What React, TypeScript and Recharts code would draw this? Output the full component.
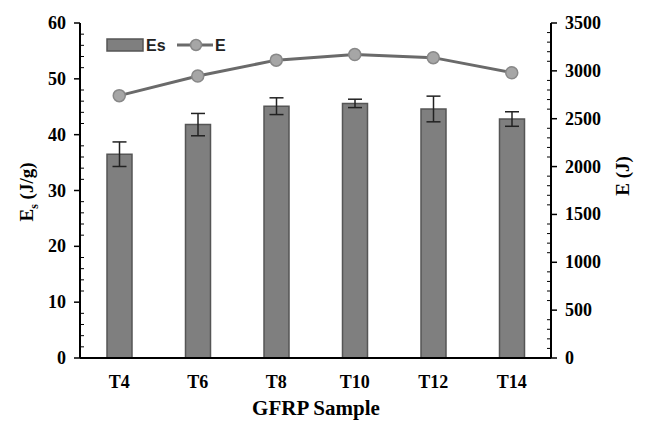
import React from 'react';
import { ComposedChart, Bar, Line, XAxis, YAxis, ErrorBar } from 'recharts';

const samples = ['T4', 'T6', 'T8', 'T10', 'T12', 'T14'];
const esValues = [36.5, 41.8, 45.1, 45.6, 44.6, 42.8];
const esErrors = [2.2, 2.0, 1.5, 0.75, 2.3, 1.3];
const eValues = [2741, 2947, 3112, 3170, 3138, 2981];

const leftTicks = Array.from({ length: 31 }, (_, i) => i * 2);
const rightTicks = Array.from({ length: 36 }, (_, i) => i * 100);

const data = samples.map((s, i) => ({ name: s, Es: esValues[i], err: esErrors[i], E: eValues[i] }));

const FONT = "'Liberation Serif', 'Times New Roman', serif";
const SANS = "'Liberation Sans', Arial, sans-serif";

const LeftTick = (props: any) => {
  const { x, y, payload } = props;
  const v = payload.value;
  const major = v % 10 === 0;
  return (
    <g>
      {major ? (
        <>
          <line x1={x - 6} x2={x} y1={y} y2={y} stroke="#000" strokeWidth={1.5} />
          <text x={x - 14} y={y} dy={6} textAnchor="end" style={{ fontFamily: FONT, fontWeight: 'bold', fontSize: 18 }} fill="#000">{v}</text>
        </>
      ) : (
        <line x1={x} x2={x + 4} y1={y} y2={y} stroke="#000" strokeWidth={1} />
      )}
    </g>
  );
};

const RightTick = (props: any) => {
  const { x, y, payload } = props;
  const v = payload.value;
  const major = v % 500 === 0;
  return (
    <g>
      {major ? (
        <>
          <line x1={x} x2={x + 6} y1={y} y2={y} stroke="#000" strokeWidth={1.5} />
          <text x={x + 14} y={y} dy={6} textAnchor="start" style={{ fontFamily: FONT, fontWeight: 'bold', fontSize: 18 }} fill="#000">{v}</text>
        </>
      ) : (
        <line x1={x - 4} x2={x} y1={y} y2={y} stroke="#000" strokeWidth={1} />
      )}
    </g>
  );
};

const XTick = (props: any) => {
  const { x, y, payload } = props;
  return (
    <text x={x} y={y} dy={22} textAnchor="middle" style={{ fontFamily: FONT, fontWeight: 'bold', fontSize: 18 }} fill="#000">{payload.value}</text>
  );
};

const LegendMarks = () => (
  <g>
    <rect x={107} y={39} width={36} height={12} fill="#7f7f7f" stroke="#555" strokeWidth={1.5} />
    <text x={146} y={51} style={{ fontFamily: SANS, fontWeight: 'bold', fontSize: 16 }} fill="#222">Es</text>
    <line x1={177} x2={213} y1={45} y2={45} stroke="#6a6a6a" strokeWidth={3} />
    <circle cx={196} cy={45} r={5.5} fill="#a6a6a6" stroke="#888" strokeWidth={1.5} />
    <text x={215} y={51} style={{ fontFamily: SANS, fontWeight: 'bold', fontSize: 16 }} fill="#222">E</text>
  </g>
);

const LeftLabel = () => (
  <text transform="translate(33,192) rotate(-90)" textAnchor="middle" style={{ fontFamily: FONT, fontWeight: 'bold', fontSize: 19 }} fill="#000">
    E<tspan style={{ fontSize: 12 }} dy={5}>s</tspan><tspan dy={-5}> (J/g)</tspan>
  </text>
);

const RightLabel = () => (
  <text transform="translate(629,176) rotate(-90)" textAnchor="middle" style={{ fontFamily: FONT, fontWeight: 'bold', fontSize: 19 }} fill="#000">
    E (J)
  </text>
);

export default function App() {
  return (
    <div style={{ position: 'absolute', left: 0, top: 0, width: 646, height: 423, background: '#fff' }}>
      <ComposedChart width={646} height={423} data={data} margin={{ top: 23, right: 0, bottom: 25, left: 0 }}>
        <XAxis dataKey="name" tick={<XTick />} tickLine={false} axisLine={{ stroke: '#000', strokeWidth: 2 }} height={40} interval={0} />
        <YAxis yAxisId="left" orientation="left" width={80} domain={[0, 60]} ticks={leftTicks} interval={0} tick={<LeftTick />} tickLine={false} tickSize={0} tickMargin={0} axisLine={{ stroke: '#000', strokeWidth: 2 }} />
        <YAxis yAxisId="right" orientation="right" width={95} domain={[0, 3500]} ticks={rightTicks} interval={0} tick={<RightTick />} tickLine={false} tickSize={0} tickMargin={0} axisLine={{ stroke: '#000', strokeWidth: 2 }} />
        <XAxis xAxisId="top" orientation="top" dataKey="name" tick={false} tickLine={false} axisLine={{ stroke: '#000', strokeWidth: 2 }} height={0} />
        <Bar yAxisId="left" dataKey="Es" fill="#7f7f7f" stroke="#555" strokeWidth={1.5} barSize={25} isAnimationActive={false}>
          <ErrorBar dataKey="err" width={7} stroke="#222" strokeWidth={1.5} direction="y" />
        </Bar>
        <Line yAxisId="right" dataKey="E" stroke="#6a6a6a" strokeWidth={3} dot={{ r: 6, fill: '#a6a6a6', stroke: '#888', strokeWidth: 1.5 }} isAnimationActive={false} />
        <LegendMarks />
        <LeftLabel />
        <RightLabel />
        <text x={316} y={415} textAnchor="middle" style={{ fontFamily: FONT, fontWeight: 'bold', fontSize: 21 }} fill="#000">GFRP Sample</text>
      </ComposedChart>
    </div>
  );
}
